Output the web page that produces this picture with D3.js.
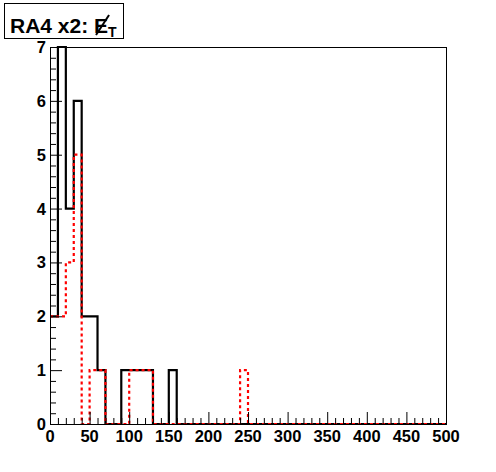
<!DOCTYPE html>
<html><head><meta charset="utf-8">
<script src="https://cdn.jsdelivr.net/npm/d3@7"></script>
<style>body{margin:0;background:#fff}svg{display:block}</style>
</head><body>
<script>
const binWidth = 10;
const xDomain = [0, 500];
const yDomain = [0, 7];
const xTicks = [0, 50, 100, 150, 200, 250, 300, 350, 400, 450, 500];
const yTicks = [0, 1, 2, 3, 4, 5, 6, 7];
const blackCounts = [2,7,4,6,2,2,1,0,0,1, 1,1,1,0,0,1,0,0,0,0, 0,0,0,0,0,0,0,0,0,0, 0,0,0,0,0,0,0,0,0,0, 0,0,0,0,0,0,0,0,0,0];
const redCounts   = [2,2,3,5,0,1,1,0,0,0, 1,1,1,0,0,0,0,0,0,0, 0,0,0,0,1,0,0,0,0,0, 0,0,0,0,0,0,0,0,0,0, 0,0,0,0,0,0,0,0,0,0];

const W = 496, H = 472;
const L = 50, R = 446, T = 47, B = 424;
const svg = d3.select("body").append("svg").attr("width", W).attr("height", H);
svg.append("rect").attr("width", W).attr("height", H).attr("fill", "#fff");

const x = d3.scaleLinear().domain(xDomain).range([L, R]);
const y = d3.scaleLinear().domain(yDomain).range([B, T]);

function stepPath(counts) {
  const pts = [];
  counts.forEach((c, i) => {
    pts.push([i * binWidth, c]);
    pts.push([(i + 1) * binWidth, c]);
  });
  return d3.line().x(d => x(d[0])).y(d => y(d[1]))(pts);
}

// frame
svg.append("rect").attr("x", L + 0.5).attr("y", T + 0.5).attr("width", R - L).attr("height", B - T)
  .attr("fill", "none").attr("stroke", "#000").attr("stroke-width", 1);

// histograms
svg.append("path").attr("d", stepPath(blackCounts)).attr("fill", "none")
  .attr("stroke", "#000").attr("stroke-width", 2.2);
svg.append("path").attr("d", stepPath(redCounts)).attr("fill", "none")
  .attr("stroke", "#ff0000").attr("stroke-width", 2.2).attr("stroke-dasharray", "3,3");

// ticks
const xMinor = d3.range(0, 501, 10);
const yMinor = d3.range(0, 7.001, 0.2);
const tg = svg.append("g").attr("stroke", "#000").attr("stroke-width", 1);
xMinor.forEach(v => {
  const major = xTicks.includes(v);
  tg.append("line").attr("x1", x(v) + 0.5).attr("x2", x(v) + 0.5)
    .attr("y1", B).attr("y2", B - (major ? 12 : 6));
});
yMinor.forEach(v => {
  const major = Math.abs(v - Math.round(v)) < 1e-6;
  tg.append("line").attr("y1", y(v) + 0.5).attr("y2", y(v) + 0.5)
    .attr("x1", L).attr("x2", L + (major ? 12 : 6));
});

// axes lines
svg.append("line").attr("x1", L).attr("x2", R).attr("y1", B + 0.5).attr("y2", B + 0.5).attr("stroke", "#000");
svg.append("line").attr("x1", L + 0.5).attr("x2", L + 0.5).attr("y1", T).attr("y2", B).attr("stroke", "#000");

const font = "'Liberation Sans', Arial, Helvetica, sans-serif";
svg.append("g").selectAll("text").data(xTicks).join("text")
  .attr("x", d => x(d)).attr("y", B + 18)
  .attr("text-anchor", "middle").attr("font-family", font).attr("font-weight", "bold")
  .attr("font-size", 16.5).text(d => d);
svg.append("g").selectAll("text").data(yTicks).join("text")
  .attr("x", L - 4).attr("y", d => y(d) + 6)
  .attr("text-anchor", "end").attr("font-family", font).attr("font-weight", "bold")
  .attr("font-size", 16.5).text(d => d);

// title box
svg.append("rect").attr("x", 4.5).attr("y", 3.5).attr("width", 119).attr("height", 35)
  .attr("fill", "#fff").attr("stroke", "#000").attr("stroke-width", 1);
const title = svg.append("text").attr("x", 10).attr("y", 33)
  .attr("font-family", font).attr("font-weight", "bold").attr("font-size", 21);
title.append("tspan").text("RA4 x2: ");
title.append("tspan").text("E");
title.append("tspan").attr("font-size", 14).attr("dy", 4).text("T");
// slash through E
const ex = title.node().getStartPositionOfChar(8).x;
const ew = title.node().getExtentOfChar(8).width;
svg.append("line").attr("x1", ex + 2).attr("y1", 35).attr("x2", ex + ew + 1).attr("y2", 15)
  .attr("stroke", "#000").attr("stroke-width", 2);
</script>
</body></html>
